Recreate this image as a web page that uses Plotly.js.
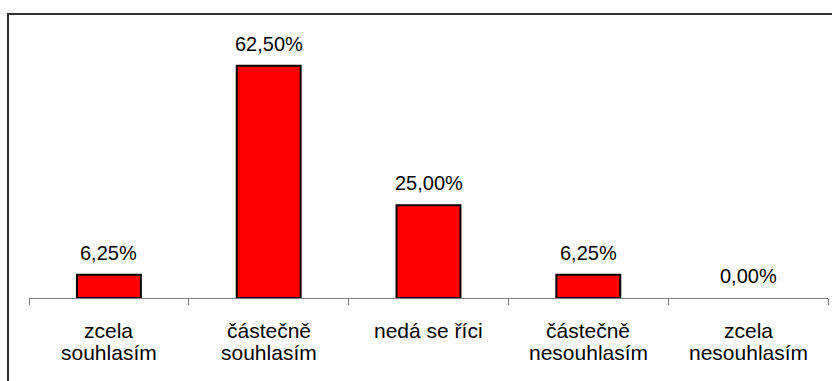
<!DOCTYPE html>
<html>
<head>
<meta charset="utf-8">
<script src="https://cdn.plot.ly/plotly-3.0.1.min.js"></script>
<style>
html,body{margin:0;padding:0;background:#fff;}
#wrap{position:relative;width:832px;height:381px;overflow:hidden;}
#frame{position:absolute;left:7px;top:13px;width:900px;height:500px;border-left:2px solid #333;border-top:2px solid #333;pointer-events:none;}
#chart{position:absolute;left:0;top:0;width:832px;height:381px;}
</style>
</head>
<body>
<div id="wrap">
<div id="chart"></div>
<div id="frame"></div>
</div>
<script>
const categories = ["zcela<br>souhlasím", "částečně<br>souhlasím", "nedá se říci", "částečně<br>nesouhlasím", "zcela<br>nesouhlasím"];
const values = [6.25, 62.5, 25.0, 6.25, 0.0];
const valueLabels = ["6,25%", "62,50%", "25,00%", "6,25%", "0,00%"];

const FONT = "Liberation Sans, Arial, sans-serif";

const trace = {
  type: "bar",
  x: categories,
  y: values,
  width: 0.4,
  marker: {color: "#ff0000", line: {color: "#000000", width: values.map(v => v > 0 ? 2 : 0)}},
  hoverinfo: "none"
};

const annotations = [];
categories.forEach((c, i) => {
  annotations.push({
    x: c, y: values[i], xref: "x", yref: "y",
    text: valueLabels[i], showarrow: false,
    yanchor: "middle", yshift: 22,
    font: {family: FONT, size: 20, color: "#000"}
  });
  c.split("<br>").forEach((line, k) => {
    annotations.push({
      x: c, y: 0, xref: "x", yref: "paper",
      text: line, showarrow: false,
      yanchor: "middle", yshift: -32 - 22 * k,
      font: {family: FONT, size: 21, color: "#000"}
    });
  });
});

const layout = {
  width: 832, height: 381,
  margin: {l: 29, r: 4, t: 38, b: 83},
  paper_bgcolor: "rgba(0,0,0,0)",
  plot_bgcolor: "rgba(0,0,0,0)",
  showlegend: false,
  xaxis: {
    type: "category",
    tickson: "boundaries",
    ticks: "outside", ticklen: 6, tickwidth: 1, tickcolor: "#808080",
    showline: true, linecolor: "#808080", linewidth: 1,
    showgrid: false, zeroline: false,
    showticklabels: false
  },
  yaxis: {range: [0, 70], visible: false, showgrid: false, zeroline: false},
  annotations: annotations
};

Plotly.newPlot("chart", [trace], layout, {displayModeBar: false, staticPlot: true});
</script>
</body>
</html>
